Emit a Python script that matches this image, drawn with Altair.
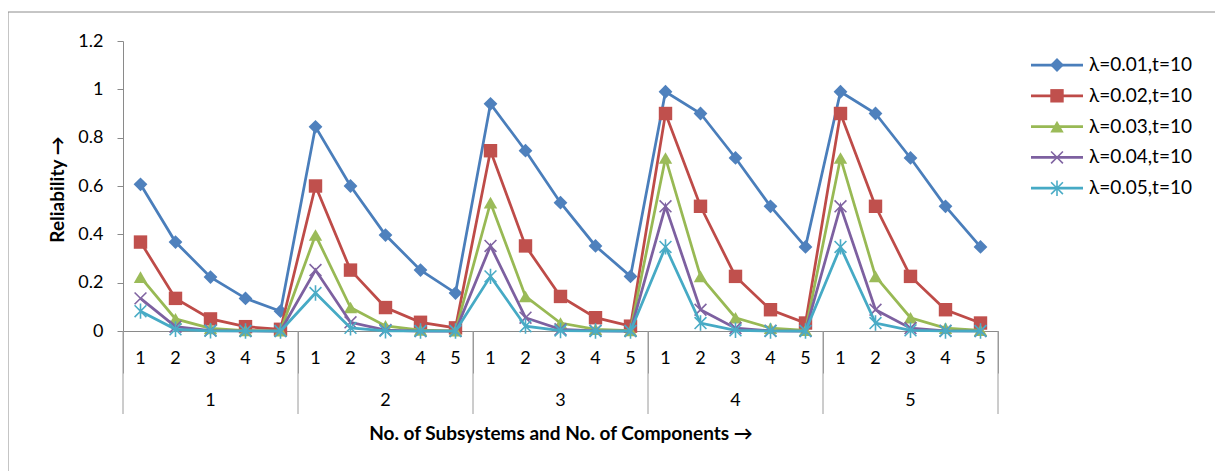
import altair as alt
import pandas as pd

groups = ["1", "2", "3", "4", "5"]
components = ["1", "2", "3", "4", "5"]
series_names = ["λ=0.01,t=10", "λ=0.02,t=10", "λ=0.03,t=10", "λ=0.04,t=10", "λ=0.05,t=10"]

s1 = [0.607, 0.368, 0.223, 0.135, 0.082,
      0.845, 0.600, 0.397, 0.252, 0.157,
      0.940, 0.746, 0.531, 0.352, 0.226,
      0.990, 0.900, 0.716, 0.516, 0.348,
      0.990, 0.900, 0.716, 0.516, 0.348]
s2 = [0.368, 0.135, 0.050, 0.018, 0.007,
      0.600, 0.252, 0.097, 0.036, 0.013,
      0.746, 0.352, 0.143, 0.055, 0.020,
      0.900, 0.516, 0.226, 0.088, 0.033,
      0.900, 0.516, 0.226, 0.088, 0.033]
s3 = [0.223, 0.050, 0.011, 0.002, 0.001,
      0.397, 0.097, 0.021, 0.004, 0.001,
      0.531, 0.143, 0.033, 0.007, 0.002,
      0.716, 0.226, 0.055, 0.012, 0.003,
      0.716, 0.226, 0.055, 0.012, 0.003]
s4 = [0.135, 0.018, 0.002, 0.000, 0.000,
      0.252, 0.036, 0.004, 0.000, 0.000,
      0.352, 0.055, 0.007, 0.001, 0.000,
      0.516, 0.088, 0.012, 0.001, 0.000,
      0.516, 0.088, 0.012, 0.001, 0.000]
s5 = [0.082, 0.007, 0.001, 0.000, 0.000,
      0.157, 0.013, 0.001, 0.000, 0.000,
      0.226, 0.020, 0.002, 0.000, 0.000,
      0.348, 0.033, 0.003, 0.000, 0.000,
      0.348, 0.033, 0.003, 0.000, 0.000]
all_series = [s1, s2, s3, s4, s5]

line_colors = ["#4A7EBB", "#BE4B48", "#98B954", "#7D60A0", "#46AAC5"]
marker_colors = ["#4F81BD", "#C0504D", "#9BBB59", "#8064A2", "#4BACC6"]
X_PATH = "M-1,-1L1,1M-1,1L1,-1"
STAR_PATH = "M-1,-1L1,1M-1,1L1,-1M0,-1.3L0,1.3"
shapes = ["diamond", "square", "triangle-up", X_PATH, STAR_PATH]
sizes = [190, 180, 180, 140, 140]
filled = [True, True, True, False, False]

FONT = "Lato"
TICK_FS = 18
LEG_FS = 19
TITLE_FS = 19

rows = []
for name, vals in zip(series_names, all_series):
    for gi, g in enumerate(groups):
        for ci, c in enumerate(components):
            k = gi * len(components) + ci
            rows.append({"series": name, "idx": k, "group": g, "comp": c, "value": vals[k]})
df = pd.DataFrame(rows)

n = len(groups) * len(components)
boundaries = [gi * len(components) - 0.5 for gi in range(len(groups) + 1)]

x_enc = alt.X(
    "idx:Q",
    scale=alt.Scale(domain=[-0.5, n - 0.5], nice=False, zero=False),
    axis=alt.Axis(values=boundaries, labels=False, tickSize=42, tickColor="#9a9a9a",
                  domainColor="#8a8a8a", grid=False,
                  title="No. of Subsystems and No. of Components  →",
                  titleFontWeight="bold", titleFontSize=TITLE_FS, titleColor="black",
                  titleY=102, titleBaseline="middle", titleFont=FONT),
)
y_enc = alt.Y(
    "value:Q",
    scale=alt.Scale(domain=[0, 1.2], nice=False),
    axis=alt.Axis(values=[0, 0.2, 0.4, 0.6, 0.8, 1, 1.2], format="~g", tickSize=6,
                  tickColor="#8a8a8a", domainColor="#8a8a8a", grid=False,
                  labelPadding=14, labelFontSize=TICK_FS, labelColor="black", labelFont=FONT,
                  title="Reliability →", titleFontWeight="bold", titleFontSize=TITLE_FS,
                  titleColor="black", titleX=-66, titleY=148, titleAngle=270,
                  titleAlign="center", titleBaseline="middle", titleFont=FONT),
)

layers = []

# outer border of the chart area
border = alt.Chart(pd.DataFrame({"b": [0]})).mark_rect(
    filled=False, stroke="#8c8c8c", strokeWidth=1
).encode(x=alt.value(-115), y=alt.value(-29), x2=alt.value(1110), y2=alt.value(450))
layers.append(border)

# category separators (group level)
sep_df = pd.DataFrame({"idx": boundaries})
layers.append(
    alt.Chart(sep_df).mark_rule(color="#9a9a9a", strokeWidth=1).encode(
        x=x_enc, y=alt.value(290), y2=alt.value(373))
)

# component labels
comp_df = pd.DataFrame({"idx": list(range(n)),
                        "label": [c for g in groups for c in components]})
layers.append(
    alt.Chart(comp_df).mark_text(fontSize=TICK_FS, baseline="middle", font=FONT, color="black").encode(
        x=x_enc, y=alt.value(318), text="label:N")
)
# group labels
grp_df = pd.DataFrame({"idx": [gi * len(components) + (len(components) - 1) / 2 for gi in range(len(groups))],
                       "label": groups})
layers.append(
    alt.Chart(grp_df).mark_text(fontSize=TICK_FS, baseline="middle", font=FONT, color="black").encode(
        x=x_enc, y=alt.value(360), text="label:N")
)

for i, name in enumerate(series_names):
    base = alt.Chart(df).transform_filter(alt.datum.series == name)
    layers.append(base.mark_line(color=line_colors[i], strokeWidth=2.75).encode(
        x=x_enc, y=y_enc, order="idx:Q"))
    if filled[i]:
        pt = base.mark_point(shape=shapes[i], size=sizes[i], filled=True,
                             color=marker_colors[i], opacity=1)
    else:
        pt = base.mark_point(shape=shapes[i], size=sizes[i], filled=False,
                             color=marker_colors[i], strokeWidth=1.6, opacity=1)
    layers.append(pt.encode(x=x_enc, y=y_enc))

# legend
leg_df = pd.DataFrame({"series": series_names})
for i, name in enumerate(series_names):
    ly = 24 + 30.8 * i
    lb = alt.Chart(leg_df).transform_filter(alt.datum.series == name)
    layers.append(lb.mark_rule(color=line_colors[i], strokeWidth=2.75).encode(
        x=alt.value(908), x2=alt.value(960), y=alt.value(ly)))
    if filled[i]:
        lp = lb.mark_point(shape=shapes[i], size=sizes[i], filled=True,
                           color=marker_colors[i], opacity=1)
    else:
        lp = lb.mark_point(shape=shapes[i], size=sizes[i], filled=False,
                           color=marker_colors[i], strokeWidth=1.6, opacity=1)
    layers.append(lp.encode(x=alt.value(934), y=alt.value(ly)))
    layers.append(lb.mark_text(align="left", baseline="middle", fontSize=LEG_FS, font=FONT,
                               color="black").encode(
        x=alt.value(966), y=alt.value(ly), text="series:N"))

chart = alt.layer(*layers).properties(
    width=875, height=290,
    autosize=alt.AutoSizeParams(type="none"),
    padding={"left": 115, "top": 33, "right": 217, "bottom": 140},
    background="white",
).configure_view(strokeWidth=0)

chart.save("out.html", embed_options={"renderer": "svg", "actions": False})
